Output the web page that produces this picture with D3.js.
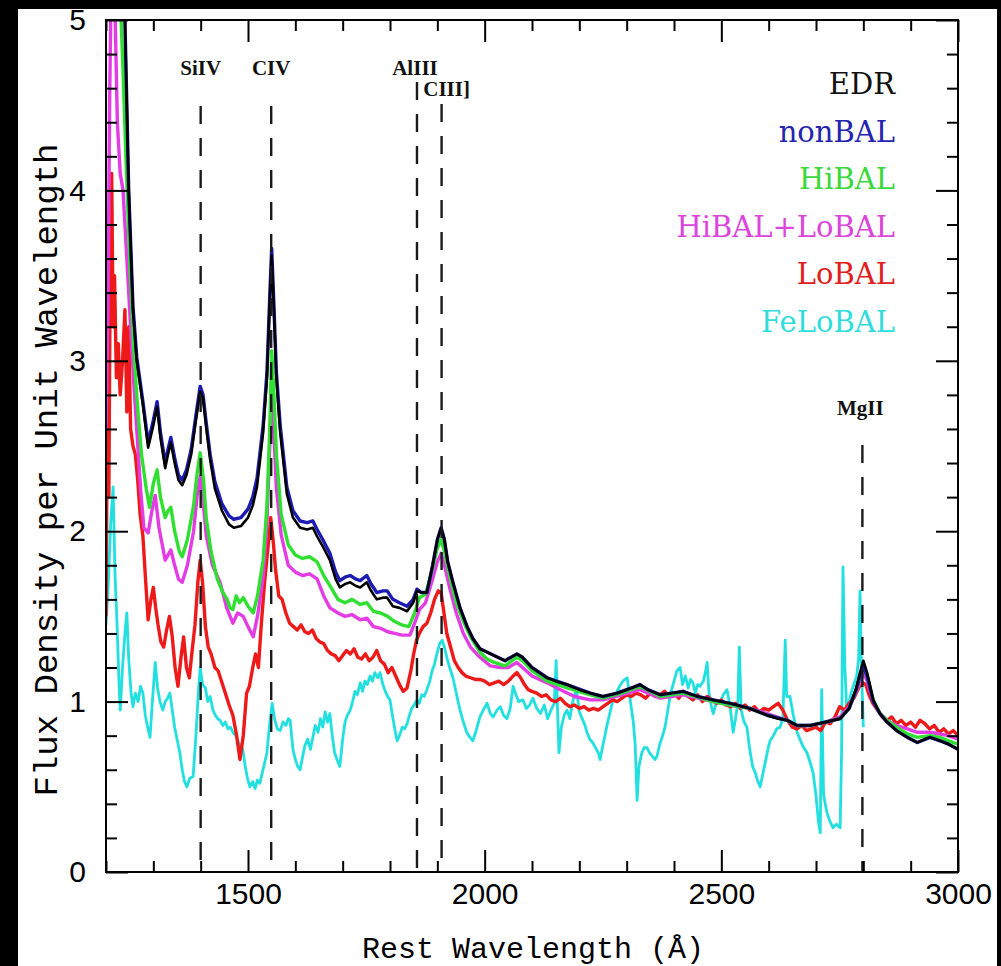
<!DOCTYPE html>
<html><head><meta charset="utf-8">
<script src="https://cdn.jsdelivr.net/npm/d3@7"></script>
<style>
html,body{margin:0;padding:0;background:#000;}
svg{display:block;}
</style></head>
<body>
<svg id="chart" width="1001" height="966"></svg>
<script>
// ---------------- DATA ----------------
const seriesNames = ["EDR","nonBAL","HiBAL","HiBAL+LoBAL","LoBAL","FeLoBAL"];
const xTicksMajor = [1500,2000,2500,3000];
const yTicksMajor = [0,1,2,3,4,5];
const emissionLines = [
  {name:"SiIV", wave:1400},
  {name:"CIV", wave:1549},
  {name:"AlIII", wave:1857},
  {name:"CIII]", wave:1909},
  {name:"MgII", wave:2798}
];

const edr = [[1200,5.8],[1230,5.6],[1240,5.0],[1248,4.0],[1257,3.30],[1265,3.0],[1278,2.74],[1289,2.49],[1300,2.62],[1308,2.73],[1315,2.55],[1325,2.37],[1331,2.45],[1337,2.52],[1345,2.40],[1353,2.30],[1361,2.27],[1370,2.33],[1380,2.45],[1390,2.65],[1399,2.82],[1405,2.78],[1412,2.60],[1420,2.42],[1430,2.25],[1445,2.12],[1460,2.04],[1470,2.02],[1485,2.03],[1500,2.08],[1510,2.15],[1519,2.26],[1532,2.58],[1540,2.90],[1546,3.35],[1550,3.62],[1554,3.35],[1560,2.90],[1568,2.58],[1582,2.22],[1595,2.08],[1610,2.02],[1625,2.01],[1637,2.02],[1646,1.97],[1660,1.90],[1673,1.83],[1685,1.72],[1694,1.67],[1705,1.69],[1716,1.70],[1727,1.68],[1737,1.67],[1751,1.70],[1760,1.65],[1772,1.60],[1785,1.61],[1794,1.61],[1806,1.56],[1820,1.55],[1836,1.53],[1849,1.58],[1857,1.65],[1866,1.64],[1878,1.64],[1890,1.80],[1900,1.95],[1908,2.02],[1915,1.95],[1922,1.82],[1933,1.70],[1948,1.55],[1963,1.44],[1975,1.37],[1990,1.31],[2020,1.27],[2043,1.24],[2068,1.28],[2080,1.26],[2100,1.20],[2132,1.14],[2150,1.12],[2174,1.10],[2200,1.07],[2223,1.05],[2250,1.03],[2280,1.05],[2310,1.08],[2328,1.10],[2345,1.07],[2371,1.04],[2395,1.05],[2419,1.06],[2450,1.03],[2483,1.01],[2519,0.99],[2560,0.96],[2597,0.92],[2620,0.90],[2639,0.89],[2660,0.86],[2688,0.86],[2720,0.88],[2751,0.90],[2770,0.96],[2785,1.08],[2793,1.17],[2800,1.24],[2808,1.17],[2821,1.01],[2835,0.93],[2850,0.88],[2870,0.83],[2893,0.79],[2914,0.76],[2930,0.78],[2941,0.79],[2962,0.77],[2980,0.75],[3000,0.72]];

const nonBAL = [[1200,5.8],[1230,5.6],[1240,5.0],[1248,4.0],[1257,3.32],[1265,3.02],[1278,2.76],[1289,2.52],[1300,2.65],[1308,2.76],[1315,2.58],[1325,2.40],[1331,2.48],[1337,2.55],[1345,2.43],[1353,2.33],[1361,2.30],[1370,2.36],[1380,2.48],[1390,2.68],[1399,2.85],[1405,2.80],[1412,2.63],[1420,2.45],[1430,2.29],[1445,2.16],[1460,2.09],[1470,2.07],[1485,2.08],[1500,2.13],[1510,2.20],[1519,2.31],[1532,2.62],[1540,2.93],[1546,3.38],[1550,3.66],[1554,3.38],[1560,2.93],[1568,2.62],[1582,2.26],[1595,2.12],[1610,2.06],[1625,2.05],[1637,2.06],[1646,2.01],[1660,1.94],[1673,1.87],[1685,1.76],[1694,1.71],[1705,1.73],[1716,1.74],[1727,1.72],[1737,1.71],[1751,1.74],[1760,1.69],[1772,1.64],[1785,1.65],[1794,1.65],[1806,1.60],[1820,1.58],[1836,1.56],[1849,1.60],[1857,1.66],[1866,1.64],[1878,1.64],[1890,1.80],[1900,1.95],[1908,2.02],[1915,1.95],[1922,1.82],[1933,1.70],[1948,1.55],[1963,1.44],[1975,1.37],[1990,1.31],[2020,1.27],[2043,1.24],[2068,1.28],[2080,1.26],[2100,1.20],[2132,1.14],[2174,1.10],[2223,1.05],[2250,1.03],[2280,1.05],[2310,1.08],[2328,1.10],[2345,1.07],[2371,1.04],[2395,1.05],[2419,1.06],[2450,1.03],[2483,1.01],[2519,0.99],[2560,0.96],[2597,0.92],[2639,0.89],[2660,0.86],[2688,0.86],[2720,0.88],[2751,0.90],[2770,0.96],[2785,1.07],[2793,1.15],[2800,1.21],[2808,1.15],[2821,1.00],[2835,0.93],[2850,0.88],[2870,0.83],[2893,0.79],[2914,0.76],[2941,0.79],[2962,0.77],[2980,0.75],[3000,0.72]];

const hiBAL = [[1200,5.8],[1228,5.3],[1236,4.7],[1242,4.2],[1250,3.6],[1258,3.1],[1266,2.75],[1275,2.45],[1285,2.25],[1292,2.14],[1300,2.28],[1308,2.36],[1315,2.20],[1325,2.08],[1331,2.12],[1337,2.14],[1345,2.00],[1355,1.88],[1361,1.85],[1372,1.95],[1385,2.15],[1393,2.35],[1399,2.46],[1406,2.30],[1412,2.07],[1422,1.88],[1435,1.72],[1447,1.64],[1456,1.60],[1462,1.55],[1468,1.54],[1475,1.62],[1482,1.58],[1490,1.61],[1500,1.56],[1511,1.52],[1520,1.62],[1532,1.83],[1540,2.15],[1546,2.60],[1550,3.06],[1554,2.85],[1560,2.45],[1570,2.10],[1585,1.92],[1600,1.86],[1615,1.84],[1630,1.85],[1646,1.82],[1660,1.74],[1673,1.68],[1690,1.60],[1705,1.58],[1720,1.60],[1737,1.57],[1751,1.58],[1765,1.53],[1780,1.52],[1795,1.50],[1810,1.47],[1825,1.45],[1840,1.44],[1852,1.52],[1862,1.61],[1875,1.63],[1890,1.78],[1900,1.90],[1908,1.95],[1915,1.88],[1925,1.75],[1940,1.58],[1955,1.47],[1970,1.38],[1990,1.29],[2005,1.25],[2020,1.23],[2043,1.21],[2068,1.26],[2080,1.24],[2100,1.18],[2132,1.12],[2174,1.08],[2223,1.04],[2250,1.02],[2290,1.05],[2328,1.09],[2371,1.03],[2419,1.05],[2483,1.00],[2519,0.98],[2560,0.96],[2597,0.92],[2639,0.89],[2660,0.86],[2688,0.86],[2720,0.88],[2751,0.90],[2770,0.96],[2785,1.07],[2793,1.15],[2800,1.21],[2808,1.15],[2821,1.01],[2835,0.93],[2850,0.89],[2870,0.85],[2893,0.81],[2914,0.79],[2941,0.80],[2962,0.79],[2980,0.77],[3000,0.75]];

const hiloBAL = [[1200,2.6],[1204,3.3],[1208,4.6],[1212,5.4],[1218,5.2],[1224,4.4],[1230,4.1],[1236,4.0],[1242,3.7],[1250,3.3],[1258,2.9],[1266,2.55],[1273,2.25],[1280,2.02],[1289,1.99],[1297,2.12],[1304,2.21],[1312,2.02],[1325,1.83],[1331,1.86],[1337,1.89],[1345,1.80],[1353,1.72],[1361,1.70],[1372,1.80],[1385,2.00],[1393,2.22],[1399,2.32],[1406,2.15],[1412,1.97],[1425,1.80],[1441,1.70],[1455,1.55],[1468,1.46],[1478,1.52],[1490,1.50],[1500,1.44],[1511,1.38],[1520,1.50],[1532,1.73],[1540,2.05],[1546,2.50],[1550,2.85],[1554,2.62],[1560,2.25],[1570,1.98],[1585,1.80],[1600,1.76],[1615,1.74],[1630,1.75],[1646,1.72],[1660,1.62],[1673,1.55],[1690,1.52],[1705,1.50],[1720,1.51],[1737,1.48],[1751,1.49],[1765,1.44],[1780,1.43],[1795,1.41],[1810,1.40],[1825,1.39],[1842,1.39],[1852,1.46],[1862,1.54],[1875,1.58],[1890,1.72],[1900,1.82],[1908,1.87],[1915,1.80],[1925,1.68],[1940,1.52],[1955,1.40],[1970,1.32],[1990,1.26],[2012,1.21],[2033,1.20],[2050,1.20],[2068,1.23],[2080,1.20],[2100,1.15],[2132,1.11],[2160,1.07],[2190,1.03],[2223,1.01],[2250,1.01],[2290,1.04],[2328,1.07],[2371,1.02],[2419,1.04],[2483,1.00],[2519,0.98],[2560,0.96],[2597,0.93],[2639,0.89],[2660,0.86],[2688,0.86],[2720,0.88],[2751,0.91],[2770,0.97],[2785,1.06],[2793,1.12],[2800,1.17],[2808,1.12],[2821,1.00],[2835,0.93],[2850,0.89],[2870,0.86],[2893,0.84],[2914,0.82],[2941,0.82],[2962,0.81],[2980,0.80],[3000,0.78]];

const loBAL = [[1200,1.50],[1203,2.8],[1206,2.2],[1209,3.6],[1212,4.1],[1215,3.2],[1218,3.5],[1222,2.9],[1226,3.1],[1230,2.8],[1235,3.0],[1240,3.3],[1244,2.7],[1248,3.2],[1252,2.6],[1257,2.5],[1262,2.45],[1267,2.3],[1272,2.1],[1278,1.97],[1284,1.70],[1289,1.48],[1295,1.60],[1300,1.67],[1305,1.55],[1310,1.45],[1316,1.35],[1322,1.32],[1328,1.42],[1334,1.50],[1340,1.38],[1346,1.20],[1352,1.09],[1358,1.25],[1364,1.38],[1370,1.20],[1376,1.14],[1382,1.30],[1388,1.45],[1394,1.70],[1399,1.83],[1404,1.70],[1410,1.44],[1416,1.32],[1422,1.28],[1430,1.20],[1437,1.18],[1444,1.12],[1452,1.05],[1460,0.98],[1468,0.92],[1476,0.80],[1483,0.66],[1490,0.80],[1497,1.05],[1503,1.09],[1510,1.20],[1516,1.28],[1522,1.20],[1528,1.45],[1535,1.70],[1542,1.90],[1548,2.08],[1553,1.95],[1558,1.78],[1565,1.62],[1572,1.60],[1580,1.52],[1588,1.46],[1596,1.44],[1604,1.42],[1612,1.45],[1620,1.41],[1628,1.40],[1636,1.42],[1644,1.37],[1652,1.35],[1660,1.34],[1668,1.30],[1676,1.28],[1684,1.27],[1692,1.24],[1700,1.27],[1708,1.30],[1716,1.28],[1724,1.31],[1732,1.26],[1740,1.25],[1748,1.28],[1756,1.24],[1764,1.26],[1772,1.30],[1780,1.24],[1788,1.22],[1796,1.17],[1804,1.20],[1812,1.15],[1820,1.10],[1828,1.06],[1836,1.08],[1844,1.18],[1850,1.28],[1856,1.36],[1862,1.40],[1870,1.44],[1878,1.46],[1886,1.52],[1894,1.60],[1902,1.65],[1908,1.64],[1914,1.52],[1920,1.40],[1928,1.32],[1936,1.24],[1944,1.20],[1952,1.17],[1960,1.15],[1970,1.14],[1980,1.13],[1990,1.13],[2000,1.12],[2010,1.10],[2020,1.11],[2030,1.12],[2040,1.10],[2050,1.12],[2060,1.15],[2068,1.17],[2076,1.14],[2084,1.10],[2092,1.07],[2100,1.06],[2110,1.05],[2120,1.03],[2130,1.04],[2140,1.01],[2150,1.00],[2160,1.02],[2170,0.99],[2180,0.97],[2190,0.98],[2200,0.96],[2210,0.97],[2220,0.95],[2230,0.96],[2240,0.95],[2250,0.97],[2260,0.99],[2270,1.01],[2280,1.00],[2290,1.02],[2300,1.04],[2310,1.03],[2320,1.05],[2330,1.04],[2340,1.02],[2350,1.05],[2360,1.03],[2370,1.04],[2380,1.06],[2390,1.03],[2400,1.05],[2410,1.02],[2420,1.06],[2430,1.03],[2440,1.01],[2450,1.04],[2460,1.00],[2470,1.03],[2480,1.01],[2490,0.99],[2500,1.01],[2510,0.98],[2520,0.97],[2530,0.99],[2540,0.96],[2550,0.98],[2560,0.95],[2570,0.97],[2580,0.94],[2590,0.96],[2600,0.95],[2610,0.97],[2620,0.99],[2630,0.95],[2640,0.89],[2650,0.85],[2660,0.84],[2670,0.86],[2680,0.83],[2690,0.84],[2700,0.85],[2710,0.83],[2720,0.88],[2730,0.87],[2740,0.91],[2750,0.97],[2760,0.95],[2770,0.99],[2780,1.02],[2790,1.08],[2798,1.11],[2805,1.10],[2812,1.04],[2820,0.99],[2830,0.95],[2840,0.91],[2850,0.89],[2860,0.91],[2870,0.87],[2880,0.89],[2890,0.86],[2900,0.88],[2910,0.85],[2920,0.89],[2930,0.87],[2940,0.84],[2950,0.86],[2960,0.82],[2970,0.84],[2980,0.81],[2990,0.83],[3000,0.80]];

const feLoBAL = [[1200,1.45],[1205,1.70],[1210,2.05],[1215,2.26],[1219,1.75],[1223,1.48],[1227,1.15],[1230,0.95],[1235,1.20],[1240,1.40],[1244,1.52],[1248,1.25],[1253,1.05],[1257,0.97],[1262,1.05],[1268,1.00],[1273,1.09],[1278,1.05],[1283,0.92],[1288,0.85],[1293,0.79],[1298,1.00],[1304,1.23],[1309,1.08],[1314,1.00],[1320,0.95],[1325,1.00],[1330,1.02],[1335,1.05],[1340,0.95],[1345,0.85],[1350,0.78],[1356,0.70],[1361,0.60],[1366,0.53],[1371,0.50],[1377,0.55],[1384,0.56],[1390,0.80],[1395,1.05],[1399,1.20],[1404,1.10],[1410,1.08],[1415,1.00],[1420,1.03],[1426,0.95],[1431,0.92],[1436,0.90],[1441,0.89],[1447,0.86],[1452,0.88],[1458,0.84],[1463,0.85],[1468,0.82],[1474,0.80],[1480,0.76],[1485,0.74],[1489,0.72],[1494,0.62],[1499,0.55],[1504,0.50],[1510,0.53],[1515,0.49],[1520,0.54],[1525,0.52],[1530,0.58],[1535,0.64],[1540,0.70],[1545,0.85],[1551,0.99],[1556,0.90],[1562,0.84],[1568,0.83],[1574,0.88],[1580,0.86],[1585,0.90],[1589,0.89],[1595,0.72],[1600,0.66],[1605,0.62],[1610,0.60],[1615,0.67],[1620,0.74],[1626,0.78],[1632,0.72],[1637,0.79],[1642,0.86],[1648,0.82],[1653,0.90],[1658,0.85],[1663,0.94],[1668,0.88],[1673,0.93],[1678,0.80],[1683,0.70],[1688,0.66],[1694,0.62],[1700,0.78],[1705,0.88],[1710,0.92],[1716,0.95],[1721,1.00],[1726,1.06],[1731,1.04],[1737,1.11],[1742,1.06],[1747,1.12],[1752,1.10],[1758,1.15],[1763,1.12],[1768,1.17],[1774,1.14],[1779,1.17],[1785,1.10],[1790,1.06],[1795,1.03],[1800,1.01],[1805,0.92],[1810,0.84],[1815,0.77],[1820,0.80],[1826,0.85],[1831,0.84],[1836,0.87],[1841,0.92],[1846,0.96],[1851,0.98],[1857,1.01],[1862,0.99],[1867,1.04],[1872,1.03],[1878,1.07],[1884,1.12],[1889,1.18],[1894,1.22],[1899,1.28],[1905,1.34],[1910,1.36],[1915,1.32],[1920,1.26],[1926,1.20],[1933,1.14],[1940,1.05],[1947,0.96],[1955,0.88],[1962,0.82],[1969,0.79],[1975,0.77],[1982,0.83],[1990,0.91],[1997,0.95],[2005,0.99],[2012,0.93],[2018,0.91],[2026,0.95],[2033,0.97],[2040,0.92],[2047,0.90],[2054,0.96],[2060,1.09],[2066,1.04],[2072,1.00],[2081,1.01],[2088,0.96],[2095,0.98],[2102,1.02],[2110,0.96],[2118,0.93],[2126,0.98],[2133,0.90],[2140,0.95],[2147,0.99],[2151,1.24],[2154,0.95],[2157,0.70],[2162,0.85],[2168,0.92],[2174,0.95],[2180,0.90],[2186,1.00],[2191,1.05],[2195,1.05],[2200,0.94],[2206,0.90],[2212,0.86],[2216,0.82],[2222,0.78],[2228,0.76],[2234,0.73],[2240,0.70],[2244,0.66],[2248,0.72],[2254,0.80],[2260,0.88],[2266,0.95],[2271,1.01],[2278,1.05],[2285,1.09],[2292,1.12],[2301,1.14],[2308,1.00],[2314,0.88],[2318,0.75],[2322,0.42],[2326,0.62],[2332,0.70],[2337,0.73],[2343,0.73],[2348,0.70],[2354,0.68],[2360,0.66],[2364,0.68],[2370,0.75],[2376,0.80],[2381,0.85],[2387,0.95],[2393,1.05],[2400,1.12],[2406,1.18],[2413,1.20],[2418,1.10],[2424,1.15],[2430,1.08],[2435,1.13],[2440,1.11],[2445,1.05],[2450,1.10],[2455,1.09],[2462,1.12],[2467,1.18],[2470,1.23],[2474,1.05],[2479,0.97],[2483,0.93],[2490,1.00],[2497,0.99],[2504,1.04],[2512,1.07],[2518,0.98],[2525,0.82],[2530,0.90],[2535,1.00],[2538,1.32],[2542,0.95],[2548,0.88],[2554,0.85],[2560,0.72],[2566,0.62],[2572,0.58],[2576,0.54],[2582,0.50],[2588,0.58],[2594,0.66],[2600,0.74],[2603,0.77],[2610,0.80],[2617,0.84],[2624,0.85],[2630,0.90],[2635,1.36],[2638,1.03],[2645,1.03],[2652,0.92],[2660,0.82],[2666,0.78],[2672,0.74],[2681,0.70],[2688,0.64],[2694,0.58],[2700,0.45],[2705,0.30],[2709,0.23],[2712,1.07],[2716,0.45],[2723,0.35],[2729,0.30],[2736,0.26],[2743,0.28],[2751,0.26],[2754,0.70],[2757,1.79],[2761,1.20],[2765,0.95],[2768,0.97],[2774,1.05],[2780,1.10],[2786,1.15],[2790,1.25],[2793,1.65],[2796,1.20],[2800,0.85]];

// ---------------- CHART ----------------
const svg = d3.select("#chart");
const W = 1001, H = 966;
const plot = {left:106, right:958, top:20, bottom:872};

svg.append("rect").attr("x",0).attr("y",0).attr("width",W).attr("height",H).attr("fill","#000");
svg.append("rect").attr("x",18).attr("y",9).attr("width",979).attr("height",H-9).attr("fill","#fff");

const x = d3.scaleLinear().domain([1200,3000]).range([plot.left, plot.right]);
const y = d3.scaleLinear().domain([0,5]).range([plot.bottom, plot.top]);

svg.append("defs").append("clipPath").attr("id","clip")
  .append("rect").attr("x",plot.left).attr("y",plot.top)
  .attr("width",plot.right-plot.left).attr("height",plot.bottom-plot.top);

const series = [
  {name:"FeLoBAL", data:feLoBAL, color:"#22e0e0", width:2.8},
  {name:"LoBAL", data:loBAL, color:"#ee1a1a", width:3.4},
  {name:"HiBAL+LoBAL", data:hiloBAL, color:"#e43ce4", width:3.4},
  {name:"HiBAL", data:hiBAL, color:"#30e030", width:3.4},
  {name:"nonBAL", data:nonBAL, color:"#1c1cb4", width:3.4},
  {name:"EDR", data:edr, color:"#000000", width:2.6}
];

const line = d3.line().x(d=>x(d[0])).y(d=>y(d[1]));
const g = svg.append("g").attr("clip-path","url(#clip)");
series.forEach(s=>{
  g.append("path").datum(s.data).attr("d",line)
    .attr("fill","none").attr("stroke",s.color).attr("stroke-width",s.width)
    .attr("stroke-linejoin","round");
});

// emission line markers
const lineLayout = {
  "SiIV":{top:106, ly:75, dx:0},
  "CIV":{top:106, ly:75, dx:0},
  "AlIII":{top:82, ly:75, dx:-2},
  "CIII]":{top:104, ly:96, dx:5},
  "MgII":{top:445, ly:415, dx:-2}
};
emissionLines.forEach(l=>{
  const L = lineLayout[l.name];
  svg.append("line").attr("x1",x(l.wave)).attr("x2",x(l.wave))
    .attr("y1",L.top).attr("y2",plot.bottom)
    .attr("stroke","#1a1a1a").attr("stroke-width",2.4).attr("stroke-dasharray","18,14");
  svg.append("text").attr("x",x(l.wave)+L.dx).attr("y",L.ly)
    .attr("text-anchor","middle").attr("font-family","Liberation Serif")
    .attr("font-weight","bold").attr("font-size",21).attr("fill","#111").text(l.name);
});

// axes
const fontTick = "Liberation Sans";
function styleAxis(sel){
  sel.select(".domain").remove();
  sel.selectAll(".tick line").attr("stroke","#000").attr("stroke-width",2);
}
const minorX = d3.range(1200,3001,100).filter(v=>v%500!==0);
const minorY = d3.range(0,5.01,0.2).map(v=>+v.toFixed(1)).filter(v=>Math.abs(v-Math.round(v))>1e-6);

// bottom
svg.append("g").attr("transform",`translate(0,${plot.bottom})`)
  .call(d3.axisBottom(x).tickValues(minorX).tickSize(-11).tickFormat(""))
  .call(styleAxis);
svg.append("g").attr("transform",`translate(0,${plot.bottom})`)
  .call(d3.axisBottom(x).tickValues(xTicksMajor).tickSize(-22).tickPadding(11).tickFormat(d3.format("d")))
  .call(styleAxis)
  .call(s=>s.selectAll("text").attr("font-family",fontTick).attr("font-size",30).attr("fill","#000"));
// top
svg.append("g").attr("transform",`translate(0,${plot.top})`)
  .call(d3.axisTop(x).tickValues(minorX).tickSize(-11).tickFormat("")).call(styleAxis);
svg.append("g").attr("transform",`translate(0,${plot.top})`)
  .call(d3.axisTop(x).tickValues(xTicksMajor).tickSize(-22).tickFormat("")).call(styleAxis);
// left
svg.append("g").attr("transform",`translate(${plot.left},0)`)
  .call(d3.axisLeft(y).tickValues(minorY).tickSize(-11).tickFormat("")).call(styleAxis);
svg.append("g").attr("transform",`translate(${plot.left},0)`)
  .call(d3.axisLeft(y).tickValues(yTicksMajor).tickSize(-22).tickPadding(20).tickFormat(d3.format("d")))
  .call(styleAxis)
  .call(s=>s.selectAll("text").attr("font-family",fontTick).attr("font-size",30).attr("fill","#000"));
// right
svg.append("g").attr("transform",`translate(${plot.right},0)`)
  .call(d3.axisRight(y).tickValues(minorY).tickSize(-11).tickFormat("")).call(styleAxis);
svg.append("g").attr("transform",`translate(${plot.right},0)`)
  .call(d3.axisRight(y).tickValues(yTicksMajor).tickSize(-22).tickFormat("")).call(styleAxis);

// frame
svg.append("rect").attr("x",plot.left).attr("y",plot.top)
  .attr("width",plot.right-plot.left).attr("height",plot.bottom-plot.top)
  .attr("fill","none").attr("stroke","#000").attr("stroke-width",2);

// axis titles
svg.append("text").attr("x",533).attr("y",958).attr("text-anchor","middle")
  .attr("font-family","Liberation Mono").attr("font-size",30).attr("fill","#000")
  .text("Rest Wavelength (Å)");
svg.append("text").attr("transform","translate(57,470) rotate(-90)").attr("text-anchor","middle")
  .attr("font-family","Liberation Mono").attr("font-size",34).attr("fill","#000")
  .text("Flux Density per Unit Wavelength");

// legend
const legendColors = {"EDR":"#111111","nonBAL":"#2424b0","HiBAL":"#3ad83a","HiBAL+LoBAL":"#dc44dc","LoBAL":"#e02020","FeLoBAL":"#30dcdc"};
seriesNames.forEach((n,i)=>{
  svg.append("text").attr("x",895).attr("y",94+i*47.5).attr("text-anchor","end")
    .attr("font-family","DejaVu Serif").attr("font-size",29).attr("fill",legendColors[n]).text(n);
});
</script>
</body></html>
